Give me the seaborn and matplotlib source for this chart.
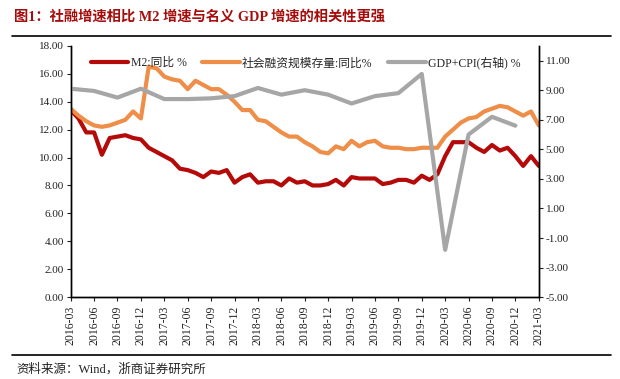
import numpy as np
import pandas as pd
import seaborn as sns
import matplotlib.pyplot as plt
from matplotlib.lines import Line2D

# data
months = pd.period_range('2016-03', '2021-03', freq='M').strftime('%Y-%m').tolist()

m2 = [13.4, 12.8, 11.8, 11.8, 10.2, 11.4, 11.5, 11.6, 11.4, 11.3,
      10.7, 10.4, 10.1, 9.8, 9.2, 9.1, 8.9, 8.6, 9.0, 8.9,
      9.1, 8.2, 8.6, 8.8, 8.2, 8.3, 8.3, 8.0, 8.5, 8.2,
      8.3, 8.0, 8.0, 8.1, 8.4, 8.0, 8.6, 8.5, 8.5, 8.5,
      8.1, 8.2, 8.4, 8.4, 8.2, 8.7, 8.4, 8.8, 10.1, 11.1,
      11.1, 11.1, 10.7, 10.4, 10.9, 10.5, 10.7, 10.1, 9.4, 10.1,
      9.4]

tsf = [13.5, 13.0, 12.6, 12.3, 12.2, 12.3, 12.5, 12.7, 13.3, 12.8,
       16.5, 16.4, 15.8, 15.6, 15.5, 14.9, 15.5, 15.2, 14.9, 14.9,
       14.5, 14.0, 13.4, 13.4, 12.7, 12.6, 12.2, 11.8, 11.5, 11.5,
       11.1, 10.8, 10.4, 10.3, 10.8, 10.6, 11.2, 10.8, 11.1, 11.2,
       10.8, 10.7, 10.7, 10.6, 10.6, 10.7, 10.7, 10.7, 11.5, 12.0,
       12.5, 12.8, 12.9, 13.3, 13.5, 13.7, 13.6, 13.3, 13.0, 13.3,
       12.3]

# quarterly, 2016Q1 .. 2020Q4 (months 2016-03, 2016-06, ...)
gdp_cpi = [9.1, 8.95, 8.5, 9.1, 8.4, 8.4, 8.45, 8.6, 9.15, 8.7,
           9.0, 8.7, 8.1, 8.6, 8.8, 10.1, -1.8, 6.0, 7.2, 6.6]

df = pd.DataFrame({'idx': np.arange(len(months)), 'month': months, 'm2': m2, 'tsf': tsf})
dq = pd.DataFrame({'idx': np.arange(0, 3 * len(gdp_cpi), 3), 'gdp': gdp_cpi})

sns.set_style('ticks')
plt.rcParams['font.family'] = ['Liberation Serif', 'Noto Sans CJK SC', 'DejaVu Sans']
plt.rcParams['axes.unicode_minus'] = False

fig = plt.figure(figsize=(6.2, 3.79), dpi=100)
ax = fig.add_axes([0.114, 0.216, 0.755, 0.663])
ax2 = ax.twinx()

red = '#B50A0A'
orange = '#EE8E48'
grey = '#A6A6A6'
lw = 3.0

sns.lineplot(data=df, x='idx', y='m2', ax=ax, color=red, lw=lw, label='M2:同比 %', legend=False)
sns.lineplot(data=df, x='idx', y='tsf', ax=ax, color=orange, lw=lw, label='社会融资规模存量:同比%', legend=False)
sns.lineplot(data=dq, x='idx', y='gdp', ax=ax2, color=grey, lw=lw, label='GDP+CPI(右轴) %', legend=False)

ax.set_xlim(0, 60)
ax.set_ylim(0, 18)
ax.set_yticks(np.arange(0, 18.1, 2))
ax.set_yticklabels([f'{v:.2f}' for v in np.arange(0, 18.1, 2)])
ax2.set_ylim(-5, 12)
ax2.set_yticks(np.arange(-5, 11.1, 2))
ax2.set_yticklabels([f'{v:.2f}' for v in np.arange(-5, 11.1, 2)])

ticks = list(range(0, 61, 3))
ax.set_xticks(ticks)
ax.set_xticklabels([months[i] for i in ticks], rotation=90)
ax.set_xlabel('')
ax.set_ylabel('')
ax2.set_ylabel('')

for a in (ax, ax2):
    a.spines['top'].set_visible(False)
    for s in a.spines.values():
        s.set_linewidth(1.0)
        s.set_color('black')
    a.tick_params(labelsize=8, length=3, width=0.8, colors='#222222', pad=2)
ax.tick_params(axis='x', labelsize=8.5, pad=3)

h1, l1 = ax.get_legend_handles_labels()
h2, l2 = ax2.get_legend_handles_labels()
ax.legend(h1 + h2, l1 + l2, ncol=3, loc='upper left', bbox_to_anchor=(0.02, 1.0),
          frameon=False, fontsize=8.5, handlelength=3.2, handletextpad=0.2,
          columnspacing=1.3)

# title, rules and source
fig.text(0.022, 0.955, '图1：社融增速相比 M2 增速与名义 GDP 增速的相关性更强',
         color='#A50D0D', fontsize=10.3, fontweight='bold', va='center',
         family=['Liberation Serif', 'Noto Sans CJK SC'])
fig.add_artist(Line2D([0.02, 0.985], [0.905, 0.905], color='black', lw=1.2))
fig.add_artist(Line2D([0.02, 0.985], [0.063, 0.063], color='black', lw=1.2))
fig.text(0.026, 0.025, '资料来源：Wind，浙商证券研究所', fontsize=9, va='center',
         color='#222222')

plt.savefig('out.png', dpi=100)
